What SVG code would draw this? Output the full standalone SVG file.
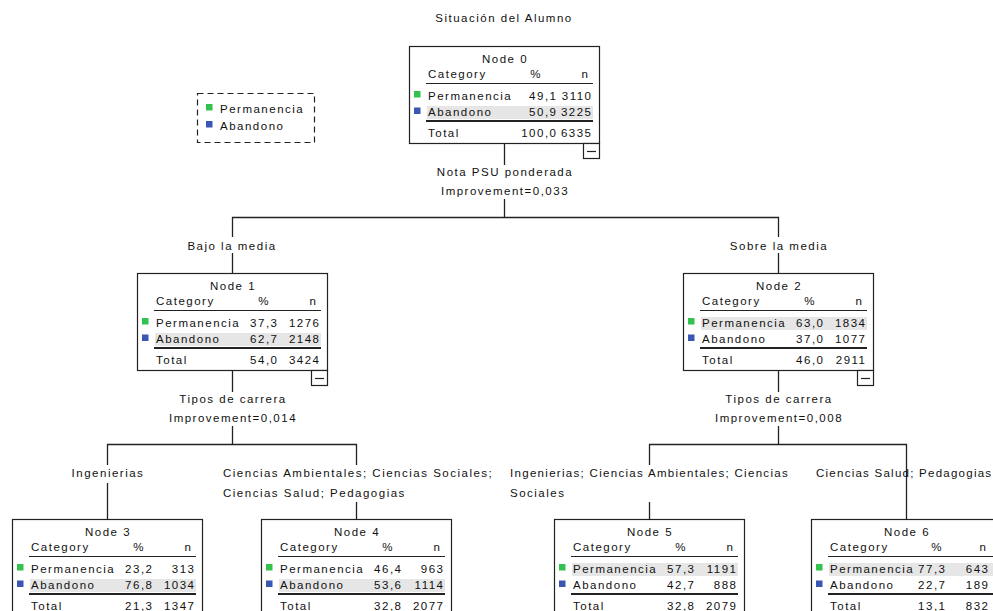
<svg xmlns="http://www.w3.org/2000/svg" width="993" height="611" viewBox="0 0 993 611">
<style>
text{font-family:"Liberation Sans",Arial,sans-serif;font-size:11.5px;letter-spacing:1.5px;fill:#111}
.m{text-anchor:middle}
.e{text-anchor:end}
.box{fill:#fff;stroke:#222;stroke-width:1.2}
.hl{fill:#e6e6e6}
.rule{stroke:#222;stroke-width:1.2}
.dbl{stroke:#222;stroke-width:2}
.g{fill:#33c24d}
.b{fill:#3c56b4}
.c line{stroke:#222;stroke-width:1.3}
.minus{fill:#fff;stroke:#222;stroke-width:1.2}
.leg{fill:none;stroke:#222;stroke-width:1.2;stroke-dasharray:6 4}
</style>
<rect width="993" height="611" fill="#fff"/>
<text class="m" x="504" y="22">Situación del Alumno</text>

<g id="legend">
<rect class="leg" x="197.5" y="93.5" width="117" height="49"/>
<rect class="g" x="206" y="104" width="6.5" height="6.5"/>
<text x="220" y="113">Permanencia</text>
<rect class="b" x="206" y="121" width="6.5" height="6.5"/>
<text x="220" y="130">Abandono</text>
</g>

<g class="c" id="connectors">
<line x1="504.5" y1="143" x2="504.5" y2="165"/>
<line x1="504.5" y1="199" x2="504.5" y2="217.5"/>
<line x1="232" y1="217.5" x2="779" y2="217.5"/>
<line x1="232.5" y1="217" x2="232.5" y2="237"/>
<line x1="232.5" y1="253" x2="232.5" y2="273"/>
<line x1="778.5" y1="217" x2="778.5" y2="237"/>
<line x1="778.5" y1="253" x2="778.5" y2="273"/>
<line x1="232.5" y1="370" x2="232.5" y2="392"/>
<line x1="232.5" y1="426" x2="232.5" y2="444.5"/>
<line x1="778.5" y1="370" x2="778.5" y2="392"/>
<line x1="778.5" y1="426" x2="778.5" y2="444.5"/>
<line x1="107" y1="444.5" x2="357" y2="444.5"/>
<line x1="649" y1="444.5" x2="907" y2="444.5"/>
<line x1="107.5" y1="444" x2="107.5" y2="465"/>
<line x1="107.5" y1="483" x2="107.5" y2="519"/>
<line x1="356.5" y1="444" x2="356.5" y2="465"/>
<line x1="356.5" y1="502" x2="356.5" y2="519"/>
<line x1="649.5" y1="444" x2="649.5" y2="465"/>
<line x1="649.5" y1="502" x2="649.5" y2="519"/>
<line x1="906.5" y1="444" x2="906.5" y2="519"/>
<text class="m" x="505" y="176">Nota PSU ponderada</text>
<text class="m" x="505" y="195">Improvement=0,033</text>
<text class="m" x="232" y="250">Bajo la media</text>
<text class="m" x="779" y="250">Sobre la media</text>
<text class="m" x="233" y="403">Tipos de carrera</text>
<text class="m" x="233" y="422">Improvement=0,014</text>
<text class="m" x="779" y="403">Tipos de carrera</text>
<text class="m" x="779" y="422">Improvement=0,008</text>
<text class="m" x="108" y="477">Ingenierias</text>
<text x="223" y="477">Ciencias Ambientales; Ciencias Sociales;</text>
<text x="223" y="497">Ciencias Salud; Pedagogias</text>
<text x="510" y="477" style="letter-spacing:1.3px">Ingenierias; Ciencias Ambientales; Ciencias</text>
<text x="510" y="497">Sociales</text>
<text x="816" y="477" style="letter-spacing:1.25px">Ciencias Salud; Pedagogias</text>
</g>

<g id="node0" transform="translate(409,46)">
<rect class="box" x="0.5" y="0.5" width="190" height="97"/>
<rect class="hl" x="18" y="60" width="166" height="13"/>
<text class="m" x="96" y="17">Node 0</text>
<text x="19" y="32">Category</text>
<text class="m" x="127" y="32">%</text>
<text class="e" x="180.5" y="32">n</text>
<line class="rule" x1="17" y1="37.5" x2="184" y2="37.5"/>
<rect class="g" x="5" y="45" width="6.5" height="6.5"/>
<text x="19" y="54">Permanencia</text>
<text class="e" x="148.5" y="54">49,1</text>
<text class="e" x="183.5" y="54">3110</text>
<rect class="b" x="5" y="61.5" width="6.5" height="6.5"/>
<text x="19" y="70">Abandono</text>
<text class="e" x="148.5" y="70">50,9</text>
<text class="e" x="183.5" y="70">3225</text>
<line class="dbl" x1="17" y1="75" x2="184" y2="75"/>
<text x="19" y="91">Total</text>
<text class="e" x="148.5" y="91">100,0</text>
<text class="e" x="183.5" y="91">6335</text>
<rect class="minus" x="174.5" y="97.5" width="16" height="15"/>
<line class="rule" x1="178" y1="105.5" x2="187" y2="105.5"/>
</g>

<g id="node1" transform="translate(137,273)">
<rect class="box" x="0.5" y="0.5" width="190" height="97"/>
<rect class="hl" x="18" y="60" width="166" height="13"/>
<text class="m" x="96" y="17">Node 1</text>
<text x="19" y="32">Category</text>
<text class="m" x="127" y="32">%</text>
<text class="e" x="180.5" y="32">n</text>
<line class="rule" x1="17" y1="37.5" x2="184" y2="37.5"/>
<rect class="g" x="5" y="45" width="6.5" height="6.5"/>
<text x="19" y="54">Permanencia</text>
<text class="e" x="141.5" y="54">37,3</text>
<text class="e" x="183.5" y="54">1276</text>
<rect class="b" x="5" y="61.5" width="6.5" height="6.5"/>
<text x="19" y="70">Abandono</text>
<text class="e" x="141.5" y="70">62,7</text>
<text class="e" x="183.5" y="70">2148</text>
<line class="dbl" x1="17" y1="75" x2="184" y2="75"/>
<text x="19" y="91">Total</text>
<text class="e" x="141.5" y="91">54,0</text>
<text class="e" x="183.5" y="91">3424</text>
<rect class="minus" x="174.5" y="97.5" width="16" height="15"/>
<line class="rule" x1="178" y1="105.5" x2="187" y2="105.5"/>
</g>

<g id="node2" transform="translate(683,273)">
<rect class="box" x="0.5" y="0.5" width="190" height="97"/>
<rect class="hl" x="18" y="44" width="166" height="13"/>
<text class="m" x="96" y="17">Node 2</text>
<text x="19" y="32">Category</text>
<text class="m" x="127" y="32">%</text>
<text class="e" x="180.5" y="32">n</text>
<line class="rule" x1="17" y1="37.5" x2="184" y2="37.5"/>
<rect class="g" x="5" y="45" width="6.5" height="6.5"/>
<text x="19" y="54">Permanencia</text>
<text class="e" x="141.5" y="54">63,0</text>
<text class="e" x="183.5" y="54">1834</text>
<rect class="b" x="5" y="61.5" width="6.5" height="6.5"/>
<text x="19" y="70">Abandono</text>
<text class="e" x="141.5" y="70">37,0</text>
<text class="e" x="183.5" y="70">1077</text>
<line class="dbl" x1="17" y1="75" x2="184" y2="75"/>
<text x="19" y="91">Total</text>
<text class="e" x="141.5" y="91">46,0</text>
<text class="e" x="183.5" y="91">2911</text>
<rect class="minus" x="174.5" y="97.5" width="16" height="15"/>
<line class="rule" x1="178" y1="105.5" x2="187" y2="105.5"/>
</g>

<g id="node3" transform="translate(12,519)">
<rect class="box" x="0.5" y="0.5" width="190" height="97"/>
<rect class="hl" x="18" y="60" width="166" height="13"/>
<text class="m" x="96" y="17">Node 3</text>
<text x="19" y="32">Category</text>
<text class="m" x="127" y="32">%</text>
<text class="e" x="180.5" y="32">n</text>
<line class="rule" x1="17" y1="37.5" x2="184" y2="37.5"/>
<rect class="g" x="5" y="45" width="6.5" height="6.5"/>
<text x="19" y="54">Permanencia</text>
<text class="e" x="141.5" y="54">23,2</text>
<text class="e" x="183.5" y="54">313</text>
<rect class="b" x="5" y="61.5" width="6.5" height="6.5"/>
<text x="19" y="70">Abandono</text>
<text class="e" x="141.5" y="70">76,8</text>
<text class="e" x="183.5" y="70">1034</text>
<line class="dbl" x1="17" y1="75" x2="184" y2="75"/>
<text x="19" y="91">Total</text>
<text class="e" x="141.5" y="91">21,3</text>
<text class="e" x="183.5" y="91">1347</text>
</g>

<g id="node4" transform="translate(261,519)">
<rect class="box" x="0.5" y="0.5" width="190" height="97"/>
<rect class="hl" x="18" y="60" width="166" height="13"/>
<text class="m" x="96" y="17">Node 4</text>
<text x="19" y="32">Category</text>
<text class="m" x="127" y="32">%</text>
<text class="e" x="180.5" y="32">n</text>
<line class="rule" x1="17" y1="37.5" x2="184" y2="37.5"/>
<rect class="g" x="5" y="45" width="6.5" height="6.5"/>
<text x="19" y="54">Permanencia</text>
<text class="e" x="141.5" y="54">46,4</text>
<text class="e" x="183.5" y="54">963</text>
<rect class="b" x="5" y="61.5" width="6.5" height="6.5"/>
<text x="19" y="70">Abandono</text>
<text class="e" x="141.5" y="70">53,6</text>
<text class="e" x="183.5" y="70">1114</text>
<line class="dbl" x1="17" y1="75" x2="184" y2="75"/>
<text x="19" y="91">Total</text>
<text class="e" x="141.5" y="91">32,8</text>
<text class="e" x="183.5" y="91">2077</text>
</g>

<g id="node5" transform="translate(554,519)">
<rect class="box" x="0.5" y="0.5" width="190" height="97"/>
<rect class="hl" x="18" y="44" width="166" height="13"/>
<text class="m" x="96" y="17">Node 5</text>
<text x="19" y="32">Category</text>
<text class="m" x="127" y="32">%</text>
<text class="e" x="180.5" y="32">n</text>
<line class="rule" x1="17" y1="37.5" x2="184" y2="37.5"/>
<rect class="g" x="5" y="45" width="6.5" height="6.5"/>
<text x="19" y="54">Permanencia</text>
<text class="e" x="141.5" y="54">57,3</text>
<text class="e" x="183.5" y="54">1191</text>
<rect class="b" x="5" y="61.5" width="6.5" height="6.5"/>
<text x="19" y="70">Abandono</text>
<text class="e" x="141.5" y="70">42,7</text>
<text class="e" x="183.5" y="70">888</text>
<line class="dbl" x1="17" y1="75" x2="184" y2="75"/>
<text x="19" y="91">Total</text>
<text class="e" x="141.5" y="91">32,8</text>
<text class="e" x="183.5" y="91">2079</text>
</g>

<g id="node6" transform="translate(811,519)">
<rect class="box" x="0.5" y="0.5" width="190" height="97"/>
<rect class="hl" x="18" y="44" width="166" height="13"/>
<text class="m" x="96" y="17">Node 6</text>
<text x="19" y="32">Category</text>
<text class="m" x="126" y="32">%</text>
<text class="e" x="176.5" y="32">n</text>
<line class="rule" x1="17" y1="37.5" x2="184" y2="37.5"/>
<rect class="g" x="5" y="45" width="6.5" height="6.5"/>
<text x="19" y="54">Permanencia</text>
<text class="e" x="135.5" y="54">77,3</text>
<text class="e" x="178.5" y="54">643</text>
<rect class="b" x="5" y="61.5" width="6.5" height="6.5"/>
<text x="19" y="70">Abandono</text>
<text class="e" x="135.5" y="70">22,7</text>
<text class="e" x="178.5" y="70">189</text>
<line class="dbl" x1="17" y1="75" x2="184" y2="75"/>
<text x="19" y="91">Total</text>
<text class="e" x="135.5" y="91">13,1</text>
<text class="e" x="178.5" y="91">832</text>
</g>
</svg>
